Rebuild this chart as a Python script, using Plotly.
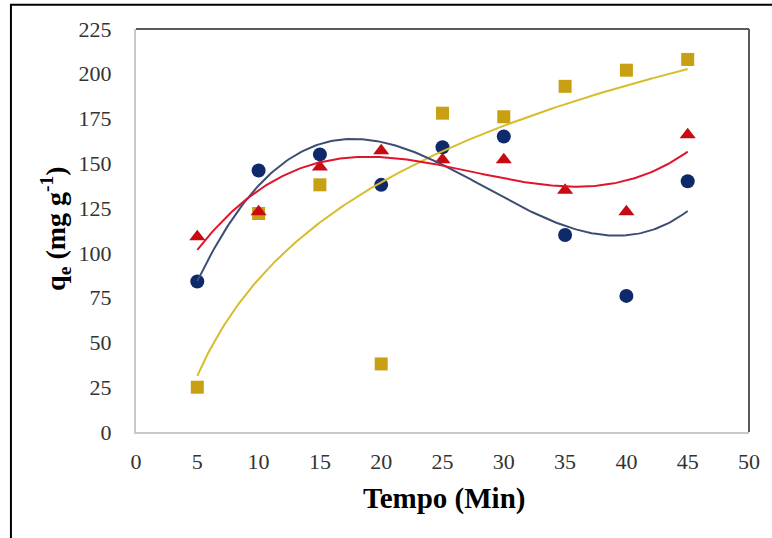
import numpy as np
import plotly.graph_objects as go

tempo = [5, 10, 15, 20, 25, 30, 35, 40, 45]
serie_azul = [84, 146, 155, 138, 159, 165, 110, 76, 140]
serie_vermelha = [109, 123, 148, 157, 152, 152, 135, 123, 166]
serie_dourada = [25, 122, 138, 38, 178, 176, 193, 202, 208]

x_ticks = [0, 5, 10, 15, 20, 25, 30, 35, 40, 45, 50]
y_ticks = [0, 25, 50, 75, 100, 125, 150, 175, 200, 225]

# trendlines computed from the data (Excel-style fits)
xs = np.linspace(min(tempo), max(tempo), 200)
pa = np.polyfit(tempo, serie_azul, 3)
pv = np.polyfit(tempo, serie_vermelha, 3)
pl = np.polyfit(np.log(tempo), serie_dourada, 1)
fit_azul = np.polyval(pa, xs)
fit_verm = np.polyval(pv, xs)
fit_dour = pl[0] * np.log(xs) + pl[1]

c_azul_m = "#0E2A6A"
c_azul_l = "#3C4E74"
c_verm_m = "#C80A12"
c_verm_l = "#E0142A"
c_dour_m = "#C9A013"
c_dour_l = "#D7BD2C"

fig = go.Figure()
fig.add_trace(go.Scatter(x=tempo, y=serie_dourada, mode="markers",
                         marker=dict(symbol="square", size=13, color=c_dour_m), showlegend=False))
fig.add_trace(go.Scatter(x=tempo, y=serie_azul, mode="markers",
                         marker=dict(symbol="circle", size=14, color=c_azul_m), showlegend=False))
fig.add_trace(go.Scatter(x=tempo, y=serie_vermelha, mode="markers",
                         marker=dict(symbol="triangle-up", size=14, color=c_verm_m), showlegend=False))
fig.add_trace(go.Scatter(x=xs, y=fit_dour, mode="lines",
                         line=dict(color=c_dour_l, width=2), showlegend=False))
fig.add_trace(go.Scatter(x=xs, y=fit_azul, mode="lines",
                         line=dict(color=c_azul_l, width=2), showlegend=False))
fig.add_trace(go.Scatter(x=xs, y=fit_verm, mode="lines",
                         line=dict(color=c_verm_l, width=2), showlegend=False))

tick_font = dict(family="Liberation Serif", size=22, color="#333333")

fig.update_layout(
    width=772, height=538,
    margin=dict(l=136, r=23, t=29, b=106),
    paper_bgcolor="white", plot_bgcolor="white",
    xaxis=dict(range=[0, 50], tickvals=x_ticks, ticktext=[str(v) for v in x_ticks],
               showgrid=False, zeroline=False, showline=True, linecolor="#C8C8C8", linewidth=2,
               ticks="outside", ticklen=9, tickcolor="rgba(0,0,0,0)", tickfont=tick_font),
    yaxis=dict(range=[0, 225], tickvals=y_ticks, ticktext=[str(v) for v in y_ticks],
               showgrid=False, zeroline=False, showline=True, linecolor="#C8C8C8", linewidth=2,
               ticks="outside", ticklen=18, tickcolor="rgba(0,0,0,0)", tickfont=tick_font),
    shapes=[
        dict(type="line", xref="paper", yref="paper", x0=0, x1=1, y0=1, y1=1,
             line=dict(color="#5A5A5A", width=2)),
        dict(type="line", xref="paper", yref="paper", x0=1, x1=1, y0=0, y1=1,
             line=dict(color="#5A5A5A", width=2)),
        dict(type="rect", xref="paper", yref="paper", x0=-0.204, x1=1.06, y0=-0.3, y1=1.060,
             line=dict(color="black", width=2)),
    ],
    annotations=[
        dict(text="<b>Tempo (Min)</b>", xref="paper", yref="paper", x=0.5024, y=-0.166,
             xanchor="center", yanchor="middle", showarrow=False,
             font=dict(family="Liberation Serif", size=29, color="black")),
        dict(text="<b>q<sub>e</sub> (mg g<sup>-1</sup>)</b>", xref="paper", yref="paper",
             x=-0.1305, y=0.504, xanchor="center", yanchor="middle", textangle=-90,
             showarrow=False, font=dict(family="Liberation Serif", size=28, color="black")),
    ],
)

fig.write_html("out.html", config={"displayModeBar": False},
               post_script="document.body.style.margin='0';document.body.style.overflow='hidden';")
